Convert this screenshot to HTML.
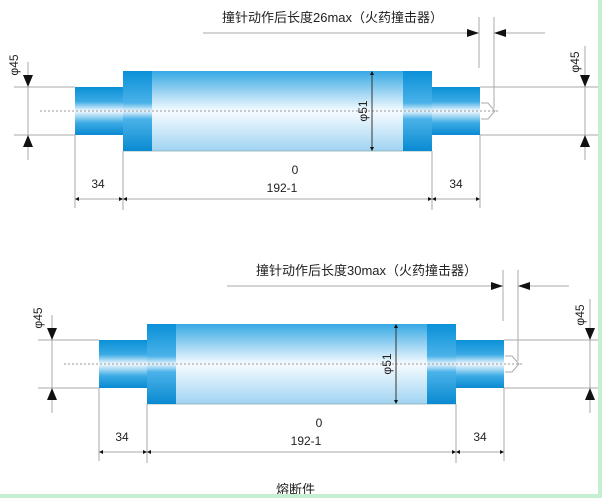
<!DOCTYPE html>
<html><head><meta charset="utf-8"><style>
html,body{margin:0;padding:0;background:#fff}
svg{display:block}
text{font-family:"Liberation Sans","Noto Sans CJK SC",sans-serif;fill:#222}
</style></head><body>
<svg width="602" height="498" viewBox="0 0 602 498" xmlns="http://www.w3.org/2000/svg">
<defs>
<linearGradient id="sm" x1="0" y1="0" x2="0" y2="1">
<stop offset="0" stop-color="#0a8fd6"/><stop offset="0.3" stop-color="#3aaae4"/><stop offset="0.5" stop-color="#f4faff"/><stop offset="0.75" stop-color="#3aaae4"/><stop offset="1" stop-color="#0a8ad2"/></linearGradient>
<linearGradient id="bd" x1="0" y1="0" x2="0" y2="1">
<stop offset="0" stop-color="#36a8e4"/><stop offset="0.5" stop-color="#f6fbff"/><stop offset="1" stop-color="#a0d4f2"/></linearGradient>
<linearGradient id="bn" x1="0" y1="0" x2="0" y2="1">
<stop offset="0" stop-color="#0a90d8"/><stop offset="0.4" stop-color="#4ab2e8"/><stop offset="0.5" stop-color="#e8f4fc"/><stop offset="0.6" stop-color="#4ab2e8"/><stop offset="1" stop-color="#0a8ad2"/></linearGradient>
<g id="fig" stroke-width="1">
<rect x="75" y="87" width="48" height="48" fill="url(#sm)"/>
<rect x="123" y="71" width="309" height="80" fill="url(#bd)"/>
<line x1="123" y1="151" x2="432" y2="151" stroke="#8aa" stroke-width="0.8"/>
<rect x="123" y="71" width="29" height="80" fill="url(#bn)"/>
<rect x="403" y="71" width="29" height="80" fill="url(#bn)"/>
<rect x="432" y="87" width="48" height="48" fill="url(#sm)"/>
<polyline points="481,103 488,103 495,111 488,119 481,119" fill="none" stroke="#aaa"/>
<line x1="40" y1="111" x2="500" y2="111" stroke="#999" stroke-dasharray="2,2"/>
<line x1="372" y1="72" x2="372" y2="150" stroke="#333"/>
<polygon points="372,71 370,75 374,75" fill="#111"/><polygon points="372,151 370,147 374,147" fill="#111"/>
<text transform="translate(367,111) rotate(-90)" font-size="12" text-anchor="middle">φ51</text>
<g stroke="#aaa"><line x1="14" y1="87" x2="75" y2="87"/><line x1="14" y1="135" x2="75" y2="135"/><line x1="28" y1="62" x2="28" y2="160"/></g>
<polygon points="23,75 33,75 28,87" fill="#111"/><polygon points="23,147 33,147 28,135" fill="#111"/>
<text transform="translate(18,65) rotate(-90)" font-size="12" text-anchor="middle">φ45</text>
<g stroke="#aaa"><line x1="203" y1="33" x2="479" y2="33"/><line x1="494" y1="33" x2="545" y2="33"/><line x1="479" y1="17" x2="479" y2="68"/><line x1="494" y1="17" x2="494" y2="108"/></g>
<polygon points="467,29 467,37 479,33" fill="#111"/><polygon points="506,29 506,37 494,33" fill="#111"/>
<g stroke="#aaa"><line x1="75" y1="199" x2="480" y2="199"/><line x1="75" y1="135" x2="75" y2="208"/><line x1="123" y1="151" x2="123" y2="210"/><line x1="432" y1="151" x2="432" y2="210"/><line x1="480" y1="135" x2="480" y2="208"/></g>
<g fill="#111"><polygon points="75,199 79,197 79,201"/><polygon points="123,199 119,197 119,201"/><polygon points="123,199 127,197 127,201"/><polygon points="432,199 428,197 428,201"/><polygon points="432,199 436,197 436,201"/><polygon points="480,199 476,197 476,201"/></g>
<text x="98" y="188" font-size="12" text-anchor="middle">34</text>
<text x="456" y="188" font-size="12" text-anchor="middle">34</text>
<text x="295" y="174" font-size="12" text-anchor="middle">0</text>
<text x="282" y="192" font-size="12" text-anchor="middle">192-1</text>
</g>
<g id="rd">
<g stroke="#aaa"><line x1="0" y1="87" x2="18" y2="87"/><line x1="0" y1="135" x2="18" y2="135"/><line x1="0" y1="46" x2="0" y2="160"/></g>
<polygon points="-5,75 5,75 0,87" fill="#111"/><polygon points="-5,147 5,147 0,135" fill="#111"/>
<text transform="translate(-6,62) rotate(-90)" font-size="12" text-anchor="middle">φ45</text>
</g>
</defs>
<use href="#fig"/>
<line x1="480" y1="87" x2="585" y2="87" stroke="#aaa"/><line x1="480" y1="135" x2="585" y2="135" stroke="#aaa"/>
<use href="#rd" transform="translate(585,0)"/>
<text x="222" y="22" font-size="13">撞针动作后长度26max（火药撞击器）</text>
<use href="#fig" transform="translate(24,253)"/>
<line x1="504" y1="340" x2="590" y2="340" stroke="#aaa"/><line x1="504" y1="388" x2="590" y2="388" stroke="#aaa"/>
<g transform="translate(590,253)"><g stroke="#aaa"><line x1="0" y1="87" x2="8" y2="87"/><line x1="0" y1="135" x2="8" y2="135"/><line x1="0" y1="46" x2="0" y2="160"/></g>
<polygon points="-5,75 5,75 0,87" fill="#111"/><polygon points="-5,147 5,147 0,135" fill="#111"/>
<text transform="translate(-6,62) rotate(-90)" font-size="12" text-anchor="middle">φ45</text></g>
<text x="256" y="275" font-size="13">撞针动作后长度30max（火药撞击器）</text>
<text x="276" y="494" font-size="13">熔断件</text>
<rect x="598" y="0" width="4" height="498" fill="#c6eed0"/>
<rect x="0" y="494" width="602" height="4" fill="#c6eed0"/>
</svg>
</body></html>
